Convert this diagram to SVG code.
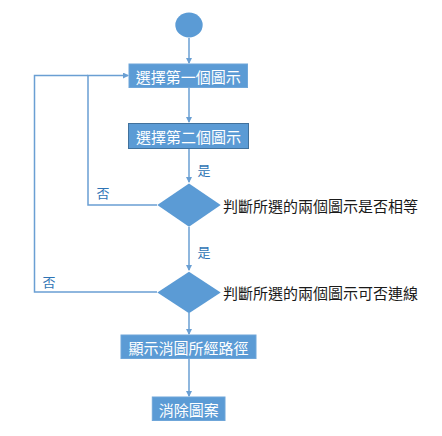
<svg xmlns="http://www.w3.org/2000/svg" width="442" height="436" viewBox="0 0 442 436">
<style>
.shape{fill:#5B9BD5;}
.box{fill:#5B9BD5;stroke:#6FA6D9;stroke-width:1;}
.box2{fill:#5B9BD5;stroke:#41719C;stroke-width:1;}
.wt{fill:#ffffff;font-family:"Noto Sans CJK TC","Noto Sans CJK SC",sans-serif;font-size:15px;text-anchor:middle;dominant-baseline:central;}
.bt{fill:#1a1a1a;font-family:"Noto Sans CJK TC","Noto Sans CJK SC",sans-serif;font-size:15px;dominant-baseline:central;}
.lbl{fill:#2E74B5;font-family:"Noto Sans CJK TC","Noto Sans CJK SC",sans-serif;font-size:13px;text-anchor:middle;dominant-baseline:central;}
.ln{fill:none;stroke:#6A9FD3;stroke-width:1.5;marker-end:url(#ah);}
.ln0{fill:none;stroke:#6A9FD3;stroke-width:1.5;}
</style>
<defs>
<marker id="ah" markerWidth="6" markerHeight="6" refX="5" refY="3" orient="auto" markerUnits="userSpaceOnUse">
<path d="M0,0 L6,3 L0,6 Z" fill="#6A9FD3"/>
</marker>
</defs>
<g id="connectors">
<line class="ln" x1="189" y1="38" x2="189" y2="63"/>
<line class="ln" x1="189" y1="88" x2="189" y2="122"/>
<line class="ln" x1="189" y1="149" x2="189" y2="182"/>
<line class="ln" x1="189" y1="227" x2="189" y2="270"/>
<line class="ln" x1="189" y1="313" x2="189" y2="334"/>
<line class="ln" x1="189" y1="359" x2="189" y2="396"/>
<polyline class="ln" points="157,205 88,205 88,75.5 128,75.5"/>
<polyline class="ln0" points="157,292 34.5,292 34.5,75.5 88,75.5"/>
<text class="lbl" x="204" y="169">是</text>
<text class="lbl" x="103" y="192">否</text>
<text class="lbl" x="204" y="251">是</text>
<text class="lbl" x="49" y="281">否</text>
</g>
<g id="start"><ellipse class="shape" cx="189" cy="25" rx="13.7" ry="12.5"/></g>
<g id="select1"><rect class="box" x="129" y="64" width="118.5" height="23.5"/><text class="wt" x="188.3" y="76">選擇第一個圖示</text></g>
<g id="select2"><rect class="box2" x="128.5" y="123.5" width="120" height="25"/><text class="wt" x="188.5" y="136">選擇第二個圖示</text></g>
<g id="decision1"><polygon class="shape" points="189,183.5 220.7,205 189,226.7 157.3,205"/><text class="bt" x="223" y="205">判斷所選的兩個圖示是否相等</text></g>
<g id="decision2"><polygon class="shape" points="189,271.7 220.7,292.5 189,313.3 157.3,292.5"/><text class="bt" x="223" y="292">判斷所選的兩個圖示可否連線</text></g>
<g id="show"><rect class="box" x="121" y="335" width="135" height="23.5"/><text class="wt" x="188.5" y="347">顯示消圖所經路徑</text></g>
<g id="clear"><rect class="box" x="152.3" y="397" width="72.7" height="23.5"/><text class="wt" x="188.7" y="409">消除圖案</text></g>
</svg>
